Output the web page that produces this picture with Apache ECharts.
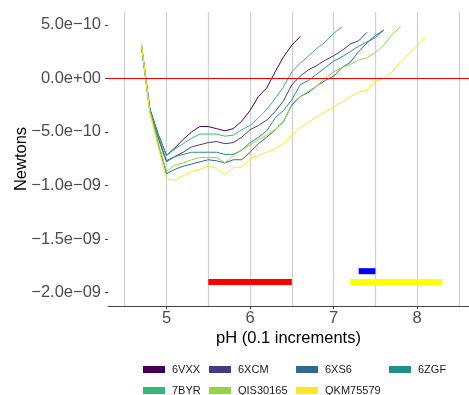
<!DOCTYPE html>
<html><head><meta charset="utf-8">
<script src="https://cdn.jsdelivr.net/npm/echarts@6/dist/echarts.min.js"></script>
<style>html,body{margin:0;padding:0;background:#fff}#c{width:469px;height:395px}</style>
</head><body><div id="c"></div>
<script>
// ---- data ----
const pH = [4.7,4.8,4.9,5.0,5.1,5.2,5.3,5.4,5.5,5.6,5.7,5.8,5.9,6.0,6.1,6.2,6.3,6.4,6.5,6.6,6.7,6.8,6.9,7.0,7.1,7.2,7.3,7.4,7.5,7.6,7.7,7.8,7.9,8.0,8.1];
const seriesNames = ['6VXX','6XCM','6XS6','6ZGF','7BYR','QIS30165','QKM75579'];
const v6VXX = [3.1e-10,-2.8e-10,-5.2e-10,-7.2e-10,-6.5e-10,-5.7e-10,-5.0e-10,-4.5e-10,-4.5e-10,-4.7e-10,-4.9e-10,-4.7e-10,-4.0e-10,-3.0e-10,-1.7e-10,-0.9e-10,0.6e-10,2.0e-10,3.1e-10,3.9e-10];
const v6XCM = [3.1e-10,-2.9e-10,-5.5e-10,-7.7e-10,-7.3e-10,-6.9e-10,-6.4e-10,-6.2e-10,-6.0e-10,-5.9e-10,-6.1e-10,-6.0e-10,-5.5e-10,-4.8e-10,-4.4e-10,-3.9e-10,-3.1e-10,-2.1e-10,-0.6e-10,0.2e-10,0.8e-10,1.2e-10,1.7e-10,2.1e-10,2.6e-10,3.2e-10,3.5e-10,4.3e-10];
const v6XS6 = [3.1e-10,-3.1e-10,-6.1e-10,-8.9e-10,-8.5e-10,-8.2e-10,-8.0e-10,-7.8e-10,-7.6e-10,-7.7e-10,-7.9e-10,-7.6e-10,-7.6e-10,-6.9e-10,-6.1e-10,-5.5e-10,-4.8e-10,-4.0e-10,-2.5e-10,-1.7e-10,-1.3e-10,-0.7e-10,-0.2e-10,0.2e-10,1.0e-10,1.5e-10,2.5e-10,3.3e-10,4.0e-10,4.5e-10];
const v6ZGF = [3.1e-10,-3.0e-10,-5.6e-10,-7.8e-10,-7.3e-10,-7.1e-10,-6.9e-10,-6.9e-10,-6.9e-10,-6.9e-10,-7.1e-10,-7.1e-10,-6.7e-10,-6.0e-10,-5.5e-10,-4.9e-10,-3.7e-10,-3.0e-10,-2.0e-10,-0.6e-10,-0.2e-10,0.4e-10,1.0e-10,1.6e-10,2.0e-10,2.5e-10,3.0e-10,3.4e-10,3.8e-10,4.5e-10];
const v7BYR = [3.1e-10,-2.9e-10,-5.3e-10,-7.2e-10,-6.6e-10,-6.1e-10,-5.6e-10,-5.2e-10,-5.2e-10,-5.2e-10,-5.4e-10,-5.3e-10,-4.8e-10,-4.4e-10,-3.7e-10,-2.9e-10,-1.9e-10,-0.8e-10,0.6e-10,1.4e-10,2.1e-10,2.8e-10,3.4e-10,4.2e-10,4.8e-10];
const vQIS30165 = [3.1e-10,-3.1e-10,-6.0e-10,-8.7e-10,-8.1e-10,-7.9e-10,-7.6e-10,-7.4e-10,-7.4e-10,-7.4e-10,-7.9e-10,-7.2e-10,-6.7e-10,-6.2e-10,-5.7e-10,-5.3e-10,-4.8e-10,-4.1e-10,-2.4e-10,-1.7e-10,-1.2e-10,-0.7e-10,0.0,0.6e-10,1.0e-10,1.3e-10,1.7e-10,1.9e-10,2.4e-10,3.1e-10,4.1e-10,4.8e-10];
const vQKM75579 = [3.3e-10,-3.2e-10,-6.4e-10,-9.4e-10,-9.5e-10,-9.1e-10,-8.7e-10,-8.5e-10,-8.2e-10,-8.4e-10,-9.0e-10,-8.3e-10,-8.3e-10,-7.5e-10,-7.2e-10,-6.9e-10,-6.6e-10,-6.1e-10,-5.3e-10,-4.6e-10,-4.1e-10,-3.6e-10,-3.1e-10,-2.7e-10,-2.2e-10,-1.7e-10,-1.3e-10,-1.1e-10,-0.3e-10,0.0,0.6e-10,1.5e-10,2.3e-10,3.1e-10,3.8e-10];
const rangeStart = [5.5, 7.3, 7.2];
const rangeEnd = [6.5, 7.5, 8.3];
const rangeY = [-1.9e-9, -1.8e-9, -1.9e-9];
const refLineY = [0];
const xTicks = [5, 6, 7, 8];
const xGridValues = [4.5, 5, 5.5, 6, 6.5, 7, 7.5, 8, 8.5];
const yTicks = [-2e-9, -1.5e-9, -1e-9, -5e-10, 0, 5e-10];
const yTickLabels = ['−2.0e−09', '−1.5e−09', '−1.0e−09', '−5.0e−10', '0.0e+00', '5.0e−10'];
const xTitle = 'pH (0.1 increments)';
const yTitle = 'Newtons';

// ---- styles ----
const values = [v6VXX, v6XCM, v6XS6, v6ZGF, v7BYR, vQIS30165, vQKM75579];
const colors = ['#440154', '#443A83', '#31688E', '#21908C', '#35B779', '#8FD744', '#FDE725'];
const rangeColors = ['#FF0000', '#0000FF', '#FFFF00'];
const FONT = '"Liberation Sans", Arial, sans-serif';

const series = [];
series.push({
  type: 'line', data: [], z: 1, silent: true,
  markLine: {
    z: 1, silent: true, symbol: 'none', label: {show: false},
    lineStyle: {color: '#d2d2d2', width: 1.3, type: 'solid'},
    data: xGridValues.map(v => ({xAxis: v}))
  }
});
seriesNames.forEach((n, i) => {
  series.push({
    name: n, type: 'line', z: 3,
    data: values[i].map((v, j) => [pH[j], v]),
    showSymbol: false, symbol: 'none',
    lineStyle: {color: colors[i], width: 1},
    itemStyle: {color: colors[i]},
    animation: false
  });
});
rangeStart.forEach((s, i) => {
  series.push({
    type: 'line', z: 4, silent: true,
    data: [[s, rangeY[i]], [rangeEnd[i], rangeY[i]]],
    showSymbol: false, symbol: 'none',
    lineStyle: {color: rangeColors[i], width: 6, cap: 'butt'},
    animation: false
  });
});
series.push({
  type: 'line', data: [], z: 5, silent: true,
  markLine: {
    z: 5, silent: true, symbol: 'none', label: {show: false},
    lineStyle: {color: '#FF0000', width: 1, type: 'solid'},
    data: refLineY.map(v => ({yAxis: v}))
  }
});

const legendCols = [143, 209, 296, 389];
const legendRows = [364, 385];
const legends = seriesNames.map((n, i) => ({
  data: [n],
  left: legendCols[i < 4 ? i : i - 4],
  top: legendRows[i < 4 ? 0 : 1],
  padding: 0,
  icon: 'rect',
  itemWidth: 22, itemHeight: 7,
  textStyle: {fontSize: 11, color: '#1a1a1a', fontFamily: FONT, padding: [0, 0, 0, 2]},
  selectedMode: false
}));

const chart = echarts.init(document.getElementById('c'), null, {renderer: 'canvas'});
chart.setOption({
  animation: false,
  backgroundColor: '#ffffff',
  grid: {left: 108, right: 0, top: 12, bottom: 89, containLabel: false, outerBoundsMode: 'none'},
  legend: legends,
  xAxis: {
    type: 'value', min: 4.3, max: 8.62,
    name: xTitle, nameLocation: 'middle', nameGap: 24, nameMoveOverlap: false,
    nameTextStyle: {fontSize: 16.5, color: '#000', fontFamily: FONT},
    axisLine: {show: true, onZero: false, lineStyle: {color: '#444', width: 1}},
    axisTick: {show: true, length: 3, customValues: xTicks, lineStyle: {color: '#444'}},
    axisLabel: {customValues: xTicks, fontSize: 16.5, color: '#4d4d4d', fontFamily: FONT, margin: 4},
    splitLine: {show: false}
  },
  yAxis: {
    type: 'value', min: -2.125e-9, max: 6.19e-10,
    name: yTitle, nameLocation: 'middle', nameGap: 78, nameMoveOverlap: false,
    nameTextStyle: {fontSize: 16.5, color: '#000', fontFamily: FONT},
    axisLine: {show: false},
    axisTick: {show: true, length: 3, customValues: yTicks, lineStyle: {color: '#444'}},
    axisLabel: {
      customValues: yTicks, fontSize: 16.5, color: '#4d4d4d', fontFamily: FONT, margin: 7,
      formatter: function (v) {
        let best = 0;
        yTicks.forEach((t, k) => { if (Math.abs(t - v) < Math.abs(yTicks[best] - v)) best = k; });
        return yTickLabels[best];
      }
    },
    splitLine: {show: false}
  },
  series: series
});
</script></body></html>
